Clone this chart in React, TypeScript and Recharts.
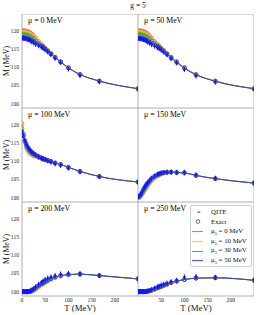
import { ComposedChart, Line, Scatter, XAxis, YAxis, ReferenceArea } from 'recharts';

// temperature grid (MeV), shared by every panel
const T_MEV = [0, 3, 6, 9, 12, 15, 18, 21, 25, 29.4, 35.7, 41.7, 45.5, 50, 55.6, 62.5, 71.4, 83.3, 100, 125, 166.7, 250];
const T_TICKS = [0, 50, 100, 150, 200];
const M_TICKS = [100, 105, 110, 115, 120];
const Y_DOMAIN = [98.8, 124.6];

const MU_LABELS = ['μ = 0 MeV', 'μ = 50 MeV', 'μ = 100 MeV', 'μ = 150 MeV', 'μ = 200 MeV', 'μ = 250 MeV'];
const MU5_LABELS = ['0 MeV', '10 MeV', '30 MeV', '50 MeV'];
const COLORS = ['#ff4545', '#d6cf2c', '#2ca52c', '#2b2bff'];

// exact M(T) for mu5 = 0 / 10 / 30 / 50, plus QITE points (mu5 = 50)
const mu0_r = [120.0, 120.0, 120.0, 119.9, 119.8, 119.6, 119.4, 119.1, 118.6, 118.0, 117.1, 116.3, 115.8, 115.2, 114.6, 113.8, 112.8, 111.5, 109.9, 108.0, 106.2, 104.1];
const mu0_y = [119.6, 119.6, 119.6, 119.5, 119.4, 119.2, 119.0, 118.7, 118.3, 117.8, 117.0, 116.2, 115.7, 115.1, 114.5, 113.7, 112.7, 111.5, 109.9, 108.0, 106.2, 104.1];
const mu0_g = [118.9, 118.9, 118.9, 118.8, 118.7, 118.5, 118.3, 118.1, 117.8, 117.3, 116.6, 116.0, 115.6, 115.1, 114.5, 113.7, 112.7, 111.5, 109.8, 108.0, 106.2, 104.1];
const mu0_b = [118.0, 118.0, 118.0, 117.9, 117.8, 117.7, 117.5, 117.3, 117.0, 116.7, 116.2, 115.8, 115.5, 115.0, 114.4, 113.6, 112.6, 111.4, 109.8, 108.0, 106.2, 104.1];
const mu0_q = [118.0, 118.0, 117.9, 117.8, 117.7, 117.5, 117.3, 117.0, 116.7, 116.3, 115.9, 115.5, 115.2, 114.8, 114.2, 113.5, 112.5, 111.3, 109.5, 107.7, 106.0, 104.0];

const mu50_r = [120.0, 120.0, 120.0, 119.9, 119.8, 119.6, 119.4, 119.1, 118.6, 118.0, 117.1, 116.3, 115.8, 115.2, 114.6, 113.8, 112.8, 111.5, 109.9, 108.0, 106.2, 104.1];
const mu50_y = [119.6, 119.6, 119.6, 119.5, 119.4, 119.2, 119.0, 118.7, 118.3, 117.8, 117.0, 116.2, 115.7, 115.1, 114.5, 113.7, 112.7, 111.5, 109.9, 108.0, 106.2, 104.1];
const mu50_g = [118.9, 118.9, 118.9, 118.8, 118.7, 118.5, 118.3, 118.1, 117.8, 117.3, 116.6, 116.0, 115.6, 115.1, 114.5, 113.7, 112.7, 111.5, 109.8, 108.0, 106.2, 104.1];
const mu50_b = [117.9, 117.9, 117.9, 117.8, 117.7, 117.6, 117.4, 117.2, 116.9, 116.6, 116.1, 115.7, 115.4, 114.9, 114.3, 113.5, 112.5, 111.3, 109.7, 107.9, 106.1, 104.1];
const mu50_q = [117.9, 117.9, 117.8, 117.7, 117.6, 117.4, 117.2, 116.9, 116.6, 116.2, 115.8, 115.4, 115.1, 114.7, 114.1, 113.4, 112.4, 111.2, 109.4, 107.6, 105.9, 104.0];

const mu100_r = [120.3, 117.6, 115.2, 113.8, 113.0, 112.5, 112.1, 111.8, 111.5, 111.3, 111.0, 110.8, 110.6, 110.4, 110.2, 109.9, 109.5, 109.1, 108.3, 107.2, 105.8, 104.3];
const mu100_y = [119.8, 117.5, 115.3, 114.0, 113.2, 112.7, 112.3, 112.0, 111.7, 111.4, 111.1, 110.8, 110.6, 110.4, 110.2, 109.9, 109.5, 109.1, 108.3, 107.2, 105.8, 104.3];
const mu100_g = [119.0, 117.2, 115.5, 114.4, 113.6, 113.0, 112.6, 112.2, 111.9, 111.6, 111.2, 110.9, 110.7, 110.5, 110.2, 109.9, 109.5, 109.1, 108.3, 107.2, 105.8, 104.3];
const mu100_b = [118.0, 116.9, 115.7, 114.8, 114.0, 113.4, 112.9, 112.5, 112.1, 111.7, 111.3, 110.9, 110.7, 110.5, 110.2, 109.9, 109.5, 109.1, 108.3, 107.2, 105.8, 104.3];
const mu100_q = [118.0, 116.9, 115.7, 114.8, 114.0, 113.4, 112.9, 112.5, 112.1, 111.7, 111.2, 110.8, 110.6, 110.4, 110.1, 109.8, 109.3, 108.9, 108.1, 107.1, 105.8, 104.3];

const mu150_r = [100.0, 100.1, 100.4, 100.9, 101.5, 102.1, 102.7, 103.3, 104.0, 104.7, 105.4, 105.9, 106.2, 106.5, 106.8, 106.9, 107.0, 106.9, 106.8, 106.1, 105.2, 104.0];
const mu150_y = [100.0, 100.1, 100.5, 101.0, 101.6, 102.2, 102.8, 103.4, 104.1, 104.8, 105.5, 106.0, 106.3, 106.5, 106.8, 106.9, 107.0, 106.9, 106.8, 106.1, 105.2, 104.0];
const mu150_g = [100.1, 100.2, 100.7, 101.3, 102.0, 102.6, 103.2, 103.7, 104.4, 105.0, 105.7, 106.1, 106.4, 106.6, 106.8, 106.9, 107.0, 106.9, 106.8, 106.1, 105.2, 104.0];
const mu150_b = [100.2, 100.4, 100.9, 101.6, 102.4, 103.0, 103.6, 104.1, 104.7, 105.3, 105.9, 106.3, 106.5, 106.7, 106.9, 107.0, 107.0, 106.9, 106.8, 106.1, 105.2, 104.0];
const mu150_q = [100.2, 100.4, 100.9, 101.6, 102.4, 103.0, 103.6, 104.1, 104.7, 105.3, 105.9, 106.4, 106.6, 106.8, 106.9, 107.0, 107.0, 106.9, 106.9, 106.2, 105.3, 104.0];

const mu200_r = [100.0, 100.0, 100.0, 100.0, 100.0, 100.0, 100.0, 100.1, 100.3, 100.6, 101.2, 101.8, 102.1, 102.5, 102.9, 103.4, 103.9, 104.3, 104.6, 104.8, 104.4, 103.5];
const mu200_y = [100.0, 100.0, 100.0, 100.0, 100.0, 100.0, 100.05, 100.15, 100.4, 100.75, 101.35, 101.9, 102.2, 102.55, 103.0, 103.45, 103.9, 104.3, 104.6, 104.8, 104.4, 103.5];
const mu200_g = [100.0, 100.0, 100.0, 100.0, 100.0, 100.0, 100.1, 100.25, 100.55, 100.9, 101.5, 102.0, 102.3, 102.6, 103.05, 103.5, 103.95, 104.35, 104.65, 104.8, 104.4, 103.5];
const mu200_b = [100.0, 100.0, 100.0, 100.0, 100.0, 100.05, 100.15, 100.35, 100.7, 101.1, 101.7, 102.2, 102.5, 102.8, 103.2, 103.6, 104.0, 104.4, 104.7, 104.8, 104.4, 103.5];
const mu200_q = [100.0, 100.0, 100.0, 100.0, 100.0, 100.05, 100.15, 100.4, 100.8, 101.3, 101.9, 102.5, 102.9, 103.3, 103.7, 104.0, 104.4, 104.8, 105.0, 104.9, 104.4, 103.5];

const mu250_r = [100.0, 100.0, 100.0, 100.0, 100.0, 100.0, 100.0, 100.05, 100.15, 100.3, 100.6, 100.9, 101.1, 101.3, 101.6, 102.0, 102.4, 102.85, 103.3, 103.7, 103.8, 103.1];
const mu250_y = [100.0, 100.0, 100.0, 100.0, 100.0, 100.0, 100.0, 100.05, 100.18, 100.35, 100.65, 100.95, 101.15, 101.35, 101.65, 102.0, 102.4, 102.85, 103.3, 103.7, 103.8, 103.1];
const mu250_g = [100.0, 100.0, 100.0, 100.0, 100.0, 100.0, 100.02, 100.1, 100.22, 100.4, 100.7, 101.0, 101.2, 101.4, 101.7, 102.05, 102.45, 102.9, 103.3, 103.7, 103.8, 103.1];
const mu250_b = [100.0, 100.0, 100.0, 100.0, 100.0, 100.0, 100.05, 100.15, 100.3, 100.5, 100.8, 101.1, 101.3, 101.5, 101.8, 102.1, 102.5, 102.9, 103.3, 103.7, 103.8, 103.1];
const mu250_q = [100.0, 100.0, 100.0, 100.0, 100.0, 100.0, 100.05, 100.15, 100.3, 100.55, 100.9, 101.3, 101.5, 101.8, 102.0, 102.3, 102.7, 103.1, 104.0, 104.1, 103.9, 103.2];

const PANELS = [
  { exact: [mu0_r, mu0_y, mu0_g, mu0_b], qite: mu0_q },
  { exact: [mu50_r, mu50_y, mu50_g, mu50_b], qite: mu50_q },
  { exact: [mu100_r, mu100_y, mu100_g, mu100_b], qite: mu100_q },
  { exact: [mu150_r, mu150_y, mu150_g, mu150_b], qite: mu150_q },
  { exact: [mu200_r, mu200_y, mu200_g, mu200_b], qite: mu200_q },
  { exact: [mu250_r, mu250_y, mu250_g, mu250_b], qite: mu250_q },
];

const FONT = '"Liberation Serif", "DejaVu Serif", serif';
const PLOT_W = 116;
const PLOT_H = 94;
const COL_X = [22, 138];
const ROW_Y = [14, 108, 202];
const QITE_BLUE = '#1414ff';

const QiteMark = (props: any) => {
  const { cx, cy } = props;
  if (cx == null || cy == null) return null;
  return (
    <g>
      <line x1={cx} x2={cx} y1={cy - 2.6} y2={cy + 2.6} stroke={QITE_BLUE} strokeWidth={1} />
      <path d={`M${cx},${cy - 1.8}L${cx + 1.5},${cy}L${cx},${cy + 1.8}L${cx - 1.5},${cy}Z`} fill={QITE_BLUE} />
    </g>
  );
};

const Panel = ({ idx }: { idx: number }) => {
  const col = idx % 2;
  const row = Math.floor(idx / 2);
  const showY = col === 0;
  const showX = row === 2;
  const yw = showY ? 22 : 0;
  const xh = showX ? 10 : 0;
  const { exact, qite } = PANELS[idx];
  const data = T_MEV.map((t, i) => ({
    t,
    e0: exact[0][i],
    e1: exact[1][i],
    e2: exact[2][i],
    e3: exact[3][i],
    q: qite[i],
  }));
  const tickStyle = { fontSize: 5.6, fill: '#222', fontFamily: FONT };

  return (
    <div style={{ position: 'absolute', left: COL_X[col] - yw, top: ROW_Y[row] }}>
      <ComposedChart width={PLOT_W + yw} height={PLOT_H + xh} data={data} margin={{ top: 0, right: 0, bottom: 0, left: 0 }}>
        <XAxis
          type="number"
          dataKey="t"
          domain={[0, 250]}
          ticks={T_TICKS}
          hide={!showX}
          height={xh}
          tickLine={false}
          axisLine={false}
          tickSize={1}
          tickMargin={1}
          tick={tickStyle}
          allowDataOverflow
        />
        <YAxis
          type="number"
          domain={Y_DOMAIN}
          ticks={M_TICKS}
          hide={!showY}
          width={yw}
          tickLine={false}
          axisLine={false}
          tickSize={1}
          tickMargin={2}
          tick={tickStyle}
          allowDataOverflow
        />
        <ReferenceArea x1={0} x2={250} y1={Y_DOMAIN[0]} y2={Y_DOMAIN[1]} fill="#ffffff" fillOpacity={0} stroke="#b0b0b0" strokeWidth={1} />
        {exact.map((_, k) => (
          <Line
            key={k}
            dataKey={`e${k}`}
            type="monotone"
            stroke={COLORS[k]}
            strokeOpacity={0.85}
            strokeWidth={1}
            dot={{ r: 1.9, stroke: COLORS[k], strokeWidth: 0.9, fill: 'none' }}
            isAnimationActive={false}
          />
        ))}
        <Scatter dataKey="q" shape={<QiteMark />} isAnimationActive={false} />
      </ComposedChart>
    </div>
  );
};

const LegendBox = () => (
  <div
    style={{
      position: 'absolute',
      left: 190,
      top: 205,
      width: 62,
      height: 62,
      border: '1px solid #d0d0d0',
      borderRadius: 2,
      background: 'rgba(255,255,255,0.85)',
      fontFamily: FONT,
      fontSize: 6.8,
      color: '#111',
      boxSizing: 'border-box',
    }}
  >
    {['QITE', 'Exact', ...MU5_LABELS].map((label, i) => (
      <div key={i} style={{ position: 'absolute', left: 0, top: 1 + i * 9.8, height: 9.8, width: 62, display: 'flex', alignItems: 'center' }}>
        <svg width={20} height={9} style={{ flex: 'none' }}>
          {i === 0 && <text x={6} y={8} fontSize={7} fill="#111">*</text>}
          {i === 1 && <circle cx={7} cy={4.5} r={1.8} fill="none" stroke="#444" strokeWidth={0.8} />}
          {i > 1 && <line x1={1} x2={12} y1={4.5} y2={4.5} stroke={COLORS[i - 2]} strokeWidth={1.2} strokeOpacity={0.8} />}
        </svg>
        <span style={{ whiteSpace: 'nowrap' }}>
          {i < 2 ? label : (
            <>
              μ<sub style={{ fontSize: 4.5, verticalAlign: 'sub' }}>5</sub> = {label}
            </>
          )}
        </span>
      </div>
    ))}
  </div>
);

export default function App() {
  return (
    <div style={{ position: 'absolute', left: 0, top: 0, width: 269, height: 315, background: '#fff', fontFamily: FONT, color: '#111', overflow: 'hidden' }}>
      <div style={{ position: 'absolute', left: 22, top: 0, width: 232, textAlign: 'center', fontSize: 7.5, lineHeight: '11px' }}>g = 5</div>
      {PANELS.map((_, i) => (
        <Panel key={i} idx={i} />
      ))}
      {MU_LABELS.map((label, i) => (
        <div
          key={label}
          style={{ position: 'absolute', left: COL_X[i % 2] + 6, top: ROW_Y[Math.floor(i / 2)] + 2, fontSize: 7.8, lineHeight: '10px', whiteSpace: 'nowrap', color: '#000' }}
        >
          {label}
        </div>
      ))}
      {ROW_Y.map((y) => (
        <div
          key={y}
          style={{
            position: 'absolute',
            left: 7 - 20,
            top: y + PLOT_H / 2 - 5,
            width: 40,
            textAlign: 'center',
            fontSize: 7.8,
            lineHeight: '10px',
            transform: 'rotate(-90deg)',
            whiteSpace: 'nowrap',
          }}
        >
          M (MeV)
        </div>
      ))}
      {COL_X.map((x) => (
        <div key={x} style={{ position: 'absolute', left: x, top: 303, width: PLOT_W, textAlign: 'center', fontSize: 8.8, lineHeight: '11px' }}>
          T (MeV)
        </div>
      ))}
      <LegendBox />
    </div>
  );
}
